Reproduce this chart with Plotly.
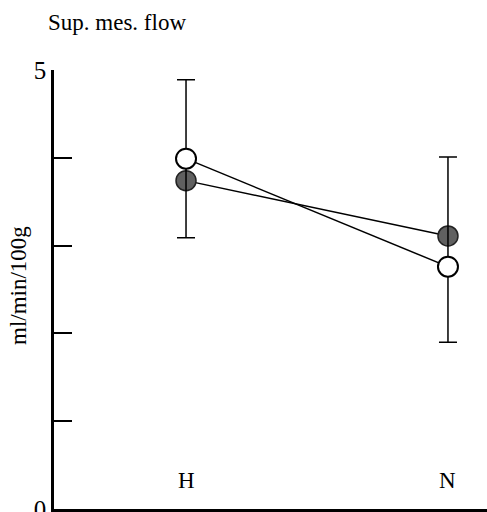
import plotly.graph_objects as go

categories = ["H", "N"]
x_pos = [0, 1]
open_values = [3.99, 2.76]
filled_values = [3.74, 3.11]
err_plus = [0.90, 1.25]
err_minus = [0.90, 0.86]
y_tickvals = [0, 1, 2, 3, 4, 5]
y_ticktext = ["0", "", "", "", "", "5"]

W, H = 487, 512
L, R, T, B = 54, 0, 70, 3
PW, PH = W - L - R, H - T - B

fig = go.Figure()
fig.add_trace(go.Scatter(
    x=x_pos, y=filled_values, mode="lines+markers",
    line=dict(color="black", width=1.5),
    marker=dict(size=20, color="#606060", line=dict(color="#222", width=1.5)),
    showlegend=False))
fig.add_trace(go.Scatter(
    x=x_pos, y=open_values, mode="lines+markers",
    line=dict(color="black", width=1.5),
    marker=dict(size=20, color="white", line=dict(color="black", width=2)),
    error_y=dict(type="data", symmetric=False, array=err_plus, arrayminus=err_minus,
                 color="black", thickness=1.5, width=9),
    showlegend=False))

font = "Liberation Serif, DejaVu Serif, serif"
for xv, lab in zip(x_pos, categories):
    fig.add_annotation(x=xv, y=0.33, xref="x", yref="y", text=lab, showarrow=False,
                       font=dict(family=font, size=23, color="black"))
fig.add_annotation(x=(18 - L) / PW, y=(H - B - 286) / PH, xref="paper", yref="paper",
                   text="ml/min/100g", textangle=-90, showarrow=False,
                   xanchor="center", yanchor="middle",
                   font=dict(family=font, size=23, color="black"))
fig.add_annotation(x=(46 - L) / PW, y=(H - B - 22) / PH, xref="paper", yref="paper",
                   text="Sup. mes. flow", showarrow=False,
                   xanchor="left", yanchor="middle",
                   font=dict(family=font, size=23, color="black"))

fig.update_layout(
    width=W, height=H,
    margin=dict(l=L, r=R, t=T, b=B, autoexpand=False),
    paper_bgcolor="white", plot_bgcolor="white",
    font=dict(family=font, color="black"),
    xaxis=dict(range=[-0.504, 1.149], showgrid=False, zeroline=False,
               showticklabels=False, ticks="", showline=True, automargin=False,
               linecolor="black", linewidth=2.5),
    yaxis=dict(range=[0, 5], tickvals=y_tickvals, ticktext=y_ticktext,
               ticks="inside", ticklen=18, tickwidth=2, tickcolor="black",
               showgrid=False, zeroline=False, showline=True, automargin=False,
               ticklabeloverflow="allow",
               linecolor="black", linewidth=2.5,
               tickfont=dict(family=font, size=25, color="black")),
)
fig.write_html("out.html", config={"displayModeBar": False},
               post_script="document.body.style.margin='0px';document.body.style.overflow='hidden';")
